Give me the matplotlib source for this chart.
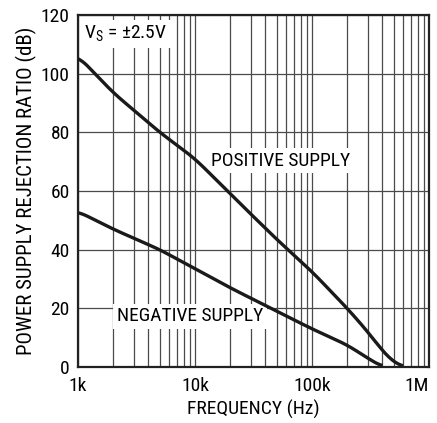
import matplotlib
matplotlib.use("Agg")
from matplotlib import pyplot as plt
from matplotlib import font_manager
import numpy as np

# (frequency in Hz, PSRR in dB)
pos_freq = [1e3, 2e3, 5e3, 1e4, 2e4, 5e4, 1e5, 2e5, 3e5, 4e5, 5e5, 6e5]
pos_psrr = [106, 93.5, 80, 71, 59, 43.5, 32.5, 20, 12, 5.5, 1.5, 0]
neg_freq = [1e3, 2e3, 5e3, 1e4, 2e4, 5e4, 1e5, 2e5, 3e5, 4e5]
neg_psrr = [53, 47, 40, 33.5, 27, 19, 13, 7.5, 3, 0]

x_ticks = [1e3, 1e4, 1e5, 1e6]
x_labels = ['1k', '10k', '100k', '1M']
y_ticks = [0, 20, 40, 60, 80, 100, 120]

names = {f.name for f in font_manager.fontManager.ttflist}
narrow = [n for n in ['Liberation Sans Narrow', 'Roboto Condensed', 'Open Sans Condensed',
                      'Noto Sans Condensed', 'DejaVu Sans Condensed'] if n in names]
fsize = 14 if narrow else 12
plt.rcParams['font.family'] = narrow[:1] + ['Liberation Sans', 'DejaVu Sans']

fig = plt.figure(figsize=(4.37, 4.23), dpi=100)
ax = fig.add_axes([78 / 437, 1 - 367 / 423, 351 / 437, 352 / 423])

# smooth the curves in log-frequency space
def smooth(freq, vals):
    lf = np.log10(freq)
    xs = np.linspace(lf[0], lf[-1], 300)
    ys = np.interp(xs, lf, vals)
    k = 9
    pad = np.pad(ys, k, mode='edge')
    ys = np.convolve(pad, np.ones(2 * k + 1) / (2 * k + 1), mode='same')[k:-k]
    return 10 ** xs, ys

fx, fy = smooth(pos_freq, pos_psrr)
ax.plot(fx, fy, color='#1a1a1a', lw=2.4, zorder=4, solid_capstyle='butt')
fx, fy = smooth(neg_freq, neg_psrr)
ax.plot(fx, fy, color='#1a1a1a', lw=2.4, zorder=4, solid_capstyle='butt')

ax.set_xscale('log')
ax.set_xlim(1e3, 1e6)
ax.set_ylim(0, 120)
ax.set_xticks(x_ticks)
ax.set_xticklabels(x_labels)
ax.set_yticks(y_ticks)
ax.xaxis.set_minor_formatter(plt.NullFormatter())
ax.tick_params(which='both', length=0, labelsize=fsize)
ax.tick_params(axis='x', pad=7)
ax.tick_params(axis='y', pad=6)
# keep the 1M label inside the figure
ax.get_xticklabels()[-1].set_horizontalalignment('right')
ax.get_xticklabels()[-1].set_x(1e6)
ax.grid(True, which='both', axis='x', color='#4a4a4a', lw=0.9)
ax.grid(True, which='major', axis='y', color='#4a4a4a', lw=0.9)
for s in ax.spines.values():
    s.set_linewidth(1.6)
    s.set_color('#222222')

# white boxes hide the grid behind the labels, curves stay on top
box = dict(facecolor='white', edgecolor='none', pad=2.5)
ax.text(1.13e3, 113.5, r'V$_\mathregular{S}$ = ±2.5V', fontsize=fsize, va='center', ha='left', bbox=box, zorder=3)
ax.text(1.37e4, 70.3, 'POSITIVE SUPPLY', fontsize=fsize, va='center', ha='left', bbox=box, zorder=3)
ax.text(2.14e3, 17.3, 'NEGATIVE SUPPLY', fontsize=fsize, va='center', ha='left', bbox=box, zorder=3)

ax.set_xlabel('FREQUENCY (Hz)', fontsize=fsize, labelpad=4)
ax.set_ylabel('POWER SUPPLY REJECTION RATIO (dB)', fontsize=fsize + 1, labelpad=3)

fig.savefig('out.png', dpi=100)
